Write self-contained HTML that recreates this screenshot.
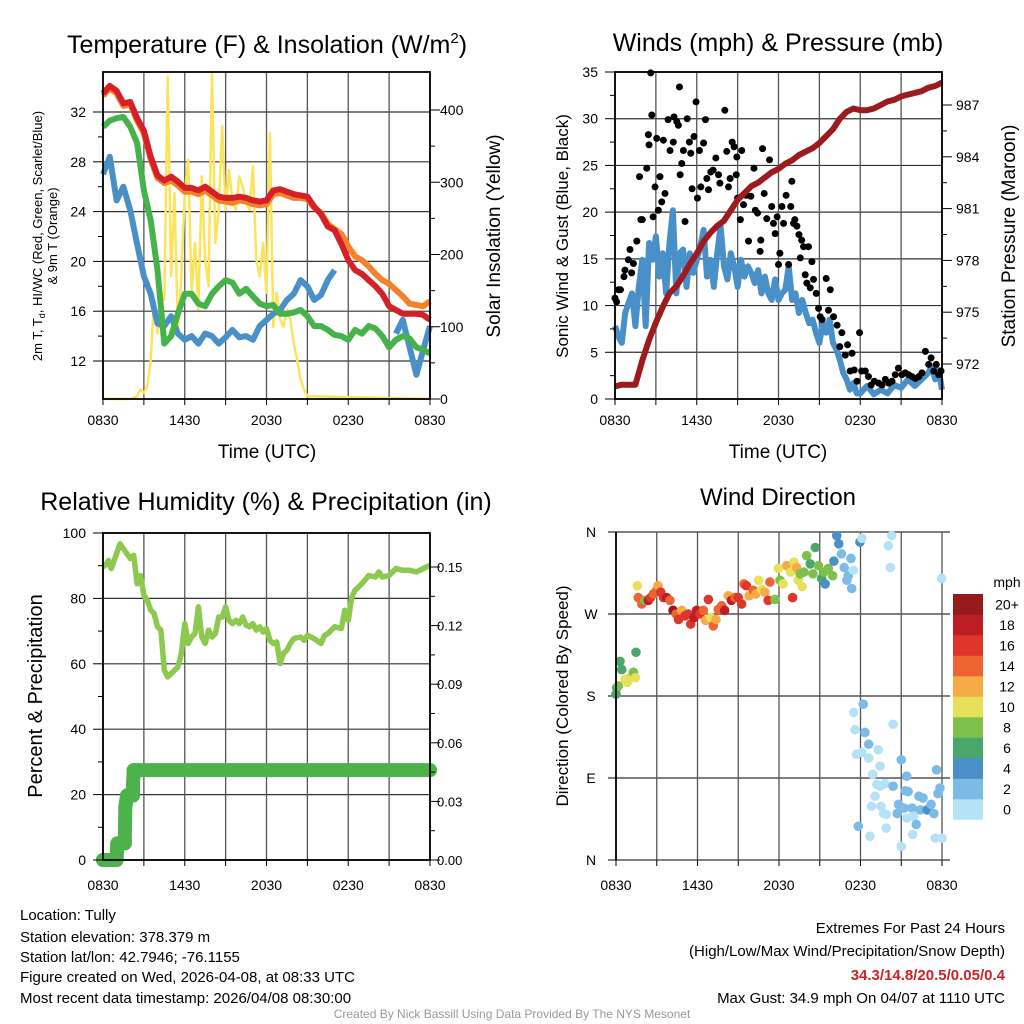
<!DOCTYPE html>
<html><head><meta charset="utf-8">
<style>
html,body{margin:0;padding:0;background:#fff;}
svg{display:block;font-family:"Liberation Sans",Arial,sans-serif;}
</style></head>
<body>
<svg id="chart" width="1024" height="1024" viewBox="0 0 1024 1024" xmlns="http://www.w3.org/2000/svg">
<rect width="1024" height="1024" fill="#fff"/>
<g id="layer"></g>
<g id="texts" fill="#000">
 <text x="267" y="53" font-size="25" text-anchor="middle">Temperature (F) &amp; Insolation (W/m<tspan font-size="15" dy="-10">2</tspan><tspan dy="10">)</tspan></text>
 <text x="778" y="51" font-size="25" text-anchor="middle">Winds (mph) &amp; Pressure (mb)</text>
 <text x="266" y="510" font-size="25" text-anchor="middle">Relative Humidity (%) &amp; Precipitation (in)</text>
 <text x="778" y="505" font-size="24" text-anchor="middle">Wind Direction</text>
 <text x="267" y="458" font-size="19" text-anchor="middle">Time (UTC)</text>
 <text x="778" y="458" font-size="19" text-anchor="middle">Time (UTC)</text>
 <text transform="translate(42,236) rotate(-90)" font-size="13" text-anchor="middle">2m T, T<tspan font-size="9" dy="3">d</tspan><tspan dy="-3">, HI/WC (Red, Green, Scarlet/Blue)</tspan></text>
 <text transform="translate(57,236) rotate(-90)" font-size="13" text-anchor="middle">&amp; 9m T (Orange)</text>
 <text transform="translate(500,236) rotate(-90)" font-size="19" text-anchor="middle">Solar Insolation (Yellow)</text>
 <text transform="translate(568,236) rotate(-90)" font-size="17" text-anchor="middle">Sonic Wind &amp; Gust (Blue, Black)</text>
 <text transform="translate(1015,236) rotate(-90)" font-size="19" text-anchor="middle">Station Pressure (Maroon)</text>
 <text transform="translate(42,696) rotate(-90)" font-size="20" text-anchor="middle">Percent &amp; Precipitation</text>
 <text transform="translate(568,696) rotate(-90)" font-size="17" text-anchor="middle">Direction (Colored By Speed)</text>
 <text x="1007" y="587" font-size="14" text-anchor="middle">mph</text>
 <g font-size="15">
  <text x="20" y="920">Location: Tully</text>
  <text x="20" y="942">Station elevation: 378.379 m</text>
  <text x="20" y="962">Station lat/lon: 42.7946; -76.1155</text>
  <text x="20" y="982">Figure created on Wed, 2026-04-08, at 08:33 UTC</text>
  <text x="20" y="1003">Most recent data timestamp: 2026/04/08 08:30:00</text>
 </g>
 <g font-size="15" text-anchor="end">
  <text x="1005" y="933">Extremes For Past 24 Hours</text>
  <text x="1005" y="956">(High/Low/Max Wind/Precipitation/Snow Depth)</text>
  <text x="1005" y="980" fill="#cc2229" font-weight="bold">34.3/14.8/20.5/0.05/0.4</text>
  <text x="1005" y="1003">Max Gust: 34.9 mph On 04/07 at 1110 UTC</text>
 </g>
 <text x="512" y="1018" font-size="12" fill="#999" text-anchor="middle">Created By Nick Bassill Using Data Provided By The NYS Mesonet</text>
</g>
</svg>
<script>
// ---------- data ----------
const xTickLabels = ["0830","1430","2030","0230","0830"];
const halfHours = [0,0.5,1,1.5,2,2.5,3,3.5,4,4.5,5,5.5,6,6.5,7,7.5,8,8.5,9,9.5,10,10.5,11,11.5,12,12.5,13,13.5,14,14.5,15,15.5,16,16.5,17,17.5,18,18.5,19,19.5,20,20.5,21,21.5,22,22.5,23,23.5,24];
const temp2m = [33.5,34.1,33.7,32.7,32.8,31.5,30.5,28.4,26.9,26.5,26.8,26.4,25.9,25.9,25.7,26.0,25.6,25.2,25.1,25.1,25.2,25.1,24.9,24.8,24.9,25.7,25.8,25.6,25.4,25.3,25.2,24.4,23.8,22.8,22.5,21.4,20.1,19.3,19.0,18.5,18.0,17.4,16.4,16.1,15.8,15.8,15.8,15.7,15.3];
const temp9m = [33.3,33.9,33.5,32.5,32.6,31.3,30.3,28.2,26.7,26.3,26.5,26.1,25.6,25.6,25.4,25.7,25.3,24.9,24.8,24.7,24.9,24.8,24.6,24.5,24.6,25.4,25.5,25.3,25.1,25.1,25.0,24.3,23.9,23.0,22.6,22.2,21.2,20.4,20.1,19.6,19.0,18.5,18.2,17.7,17.2,16.6,16.5,16.4,16.8];
const dewpoint = [30.8,31.3,31.5,31.6,30.8,29.5,25.7,23.3,19.3,13.4,14.0,15.8,17.4,17.4,16.6,16.4,17.4,18.0,18.5,18.3,17.4,17.8,17.2,16.6,16.4,16.5,15.8,15.8,15.9,16.1,15.6,14.8,14.8,14.5,14.1,14.0,13.7,14.5,14.2,14.8,14.6,14.0,13.1,13.7,14.0,13.8,13.1,12.9,12.6];
const windChill = [27.0,28.4,24.9,26.0,24.1,21.4,18.8,17.4,15.0,14.8,15.6,14.2,13.7,14.0,13.4,14.2,14.0,13.4,13.9,14.5,13.9,14.0,13.7,14.8,15.3,15.8,16.1,16.9,17.4,18.5,18.0,16.9,17.3,18.5,19.3,null,17.4,null,null,null,null,null,null,14.2,15.3,13.1,10.9,12.9,14.8];
const solarTimes = [0,2,2.5,2.75,3,3.25,3.5,3.75,4,4.25,4.5,4.75,5,5.25,5.5,5.75,6,6.25,6.5,6.75,7,7.25,7.5,7.75,8,8.25,8.5,8.75,9,9.25,9.5,9.75,10,10.25,10.5,10.75,11,11.25,11.5,11.75,12,12.25,12.5,12.75,13,13.25,13.5,13.75,14,14.25,14.5,14.75,15,24];
const solar = [0,0,4,13,8,18,54,137,91,147,137,446,170,285,91,170,285,331,147,216,124,308,193,156,451,216,262,377,262,317,276,262,308,294,271,262,322,193,170,216,147,368,100,147,110,100,124,110,77,54,27,13,4,0];
const tempTicks = [12,16,20,24,28,32];
const solarTicks = [0,100,200,300,400];

const quarterHoursWind = [0,0.25,0.5,0.75,1,1.25,1.5,1.75,2,2.25,2.5,2.75,3,3.25,3.5,3.75,4,4.25,4.5,4.75,5,5.25,5.5,5.75,6,6.25,6.5,6.75,7,7.25,7.5,7.75,8,8.25,8.5,8.75,9,9.25,9.5,9.75,10,10.25,10.5,10.75,11,11.25,11.5,11.75,12,12.25,12.5,12.75,13,13.25,13.5,13.75,14,14.25,14.5,14.75,15,15.25,15.5,15.75,16,16.25,16.5,16.75,17,17.25,17.5,17.75,18,18.5,19,19.5,20,20.5,21,21.5,22,22.5,23,23.25,23.5,23.75,24];
const windSpeed = [7.8,6.7,6.0,9.2,10.3,11.3,7.8,12,14.9,7.8,16.7,14.9,17.4,13.1,15.6,11.3,16.7,20.2,11.3,15.6,16,12,15.6,13.5,14.9,16.3,18.1,13.1,14.9,12,15.6,18.5,14.2,12.8,15.6,14.2,12,14.9,13.1,14.2,13.5,12.4,13.8,11.3,13.1,11.3,10.6,12.8,10.6,11.3,11.7,14.2,10.6,11.3,9.2,10.6,9.2,8.1,8.5,7.1,6,8.1,7.1,8.5,6,5.3,4.2,2.8,2.1,1,1.7,0.6,0.6,1.4,0.5,1,0.6,1.5,1.2,2.1,1.4,2.1,2.8,3.5,2.1,3.1,1];
const gustTimes = [0,0.12,0.25,0.4,0.66,0.73,0.98,1.1,1.22,1.35,1.6,1.8,1.9,2.0,2.33,2.45,2.5,2.62,2.7,2.8,2.94,3.06,3.18,3.3,3.43,3.55,3.67,3.9,4.04,4.28,4.33,4.53,4.65,4.73,4.78,4.9,5.02,5.14,5.3,5.46,5.56,5.66,5.8,5.95,6.05,6.2,6.3,6.5,6.64,6.74,6.86,7.03,7.2,7.4,7.6,7.7,8.06,8.2,8.33,8.45,8.6,8.74,8.9,8.94,9.0,9.2,9.3,9.43,9.63,9.8,9.97,10.2,10.3,10.46,10.65,10.7,10.83,10.95,11.14,11.34,11.5,11.63,11.76,11.9,12.0,12.1,12.25,12.37,12.56,12.74,12.9,12.98,13.1,13.2,13.35,13.5,13.6,13.7,13.84,13.96,14.08,14.2,14.33,14.45,14.57,14.77,14.94,15.06,15.2,15.5,15.67,15.8,16.04,16.3,16.5,16.65,16.9,17.07,17.26,17.4,17.56,17.76,17.95,18.1,18.37,18.6,18.8,19.03,19.35,19.6,19.84,20.1,20.33,20.57,20.8,21.06,21.3,21.55,21.8,22.04,22.3,22.53,22.78,23.02,23.2,23.4,23.58,23.76,23.93];
const gustSpeed = [10.8,10.4,11.7,11.7,13.1,13.8,14.9,16,13.5,14.5,16.9,23.8,19.2,19.2,24.7,28.3,27.2,34.9,30.4,19.5,22.7,27.9,20.2,23.8,21.1,27.7,22,29.9,26.6,27.5,30.2,29.7,29.3,33.4,24,25.2,26.6,19,30,27.5,26.3,22.5,28.1,31.8,21.5,26.6,22.7,27.4,29.9,23.6,22.4,24.3,24.5,25.8,24,23.1,30.9,26.5,22.7,23.6,27.5,27,24,25.9,21.5,19.2,26.6,20.8,21.8,16.9,21.7,24.7,20.2,19.9,15.8,17,26.8,22,19.3,25.6,20.6,18.8,17.7,19.5,14.4,15.6,20.6,18.8,21.8,14.4,20.6,23.3,18.8,19.2,18.5,17.6,15.1,17,16.3,13.3,12.4,16.3,11.9,14.7,12.8,11.3,9.7,8.8,8.5,12.9,9.5,11.7,8.8,7.9,5.6,7.1,4.7,5.8,3,4.9,3.1,1.9,7.1,3,3,2.4,1.5,1.9,1.7,1.5,2.1,1.7,1.9,2.6,3.3,2.6,2.8,2.6,2.4,2.2,2.4,2.8,5.1,3.7,4.4,3,3.7,2.6,3];
const pressure = [970.7,970.8,970.8,970.8,972.2,973.4,974.4,975.3,976.1,976.5,977.1,977.8,978.4,979.1,979.6,980.0,980.3,980.9,981.5,981.9,982.3,982.5,982.8,983.1,983.3,983.6,983.8,984.1,984.3,984.5,984.8,985.2,985.6,986.2,986.6,986.8,986.7,986.7,986.8,987.0,987.2,987.3,987.5,987.6,987.7,987.8,988.0,988.1,988.3];
const windTicks = [0,5,10,15,20,25,30,35];
const pressureTicks = [972,975,978,981,984,987];

const rhTimes = [0,0.25,0.4,0.6,1,1.25,1.5,2,2.25,2.5,2.75,3,3.25,3.5,3.75,4,4.25,4.5,4.75,5,5.25,5.5,5.75,6,6.25,6.5,6.75,7,7.25,7.5,7.75,8,8.25,8.5,8.75,9,9.25,9.5,9.75,10,10.25,10.5,10.75,11,11.25,11.5,11.75,12,12.25,12.5,12.75,13,13.25,13.5,13.75,14,14.5,14.75,15,15.5,16,16.25,16.5,17,17.5,17.75,18,18.25,18.5,19,19.5,20,20.25,20.5,21,21.5,22,22.5,23,23.5,24];
const rh = [89.6,90.5,91.6,89.1,93.7,96.7,95.2,92.2,93.2,84.5,87,81,79.4,76.4,75.4,71.3,70.3,58,56,57,58,59,63,72.3,66.2,68.2,69.2,77.4,68.2,66.2,70.3,68.2,69.2,74.3,74.3,77.4,73.3,72.3,73.3,72.3,74.3,71.8,71.3,72.3,70.3,71.3,69.7,70.8,67.2,66.2,66.7,60.1,63.2,64.2,66.2,67.7,68.2,67.2,68.7,67.7,66.2,68.7,69.2,71.3,70.8,76.4,73.3,80.4,82.5,84.5,87,86.5,88.1,86.5,87,89.1,88.6,88.6,88.1,89.1,90.1];
const precipTimes = [0,0.5,1.0,1.05,1.3,1.6,1.64,1.76,2.2,2.2,2.25,24];
const precip = [0,0,0,0.0085,0.0085,0.0085,0.027,0.033,0.033,0.038,0.046,0.046];
const rhTicks = [0,20,40,60,80,100];
const precipTicks = [0,0.03,0.06,0.09,0.12,0.15];
const precipTickLabels = ["0.00","0.03","0.06","0.09","0.12","0.15"];

const dirTimes = [0,0.05,0.17,0.3,0.42,0.66,0.83,1.0,1.28,1.42,1.47,1.57,1.64,1.9,2.13,2.38,2.55,2.75,3.0,3.1,3.29,3.5,3.73,3.97,4.2,4.42,4.6,4.83,5.08,5.32,5.5,5.74,5.94,6.18,6.43,6.6,6.8,6.97,7.16,7.36,7.53,7.78,8.0,8.27,8.5,8.76,9.0,9.25,9.42,9.6,9.8,10.1,10.3,10.5,10.72,10.96,11.33,11.2,11.7,11.95,12.07,12.3,12.57,12.86,13.0,13.1,13.3,13.42,13.55,13.7,13.84,14.04,14.3,14.5,14.67,14.9,15.14,15.3,15.4,15.63,15.95,16.04,16.25,16.4,16.6,16.8,17.0,17.1,17.3,17.35,17.47,17.96,18.1,20.3,20.05,20.2,23.97,18.2,17.5,17.6,18.33,18.6,18.1,17.7,18.6,19.3,19.44,18.9,19.2,19.44,19.8,19.07,18.8,19.5,19.7,19.9,17.84,18.7,19.9,20.4,21.0,20.4,20.8,21.3,21.5,21.4,20.7,21.2,21.8,21.4,21.9,22.1,21.84,21.0,22.3,22.6,22.4,22.9,23.2,23.4,23.6,23.7,23.85,23.5,24];
const dirDeg = [182,189,191,218,209,198,195,200,206,200,228,301,288,281,285,285,288,292,296,301,294,288,288,285,274,270,264,274,268,270,259,266,274,270,274,263,286,266,257,264,275,279,274,290,285,288,288,281,303,301,290,296,292,307,297,294,305,285,286,320,307,303,323,316,288,327,321,307,314,300,316,334,325,314,343,323,309,316,303,320,312,328,356,347,336,321,307,312,331,298,318,349,353,356,345,321,309,171,162,143,140,127,118,116,112,121,103,94,83,81,84,70,59,59,51,50,37,26,35,149,110,81,61,76,75,92,51,57,57,46,48,39,28,15,70,68,55,55,61,51,99,73,79,24,24];
const dirSpeed = [6,7,8,6,6,10,10,10,9,10,6,10,14,14,8,18,16,14,15,12,17,16,18,15,21,15,17,12,16,17,16,18,19,17,14,12,16,10,15,12,14,15,18,12,18,14,16,17,15,16,12,14,12,11,10,12,14,16,9,10,8,10,13,10,16,11,13,10,8,11,9,8,7,8,6,8,6,8,4,8,8,4,4,4,2,2,2,2,2,2,1,4,1,0,0,0,0,3,1,1,3,2,1,1,1,1,1,1,1,1,1,1,1,1,1,0,3,1,1,1,2,2,3,3,3,2,3,2,2,1,1,3,1,1,3,3,3,4,3,3,3,3,2,1,1];
const speedColors = ["#b5e2f7","#7cbbe6","#4a8fc7","#4aa66b","#7dc14c","#e7e05a","#f6ab47","#ee6430","#de362b","#bd1d25","#961a1b"];
const speedLabels = ["0","2","4","6","8","10","12","14","16","18","20+"];
const dirTicks = [0,90,180,270,360];
const dirTickLabels = ["N","E","S","W","N"];

// ---------- helpers ----------
const NS = "http://www.w3.org/2000/svg";
const layer = document.getElementById("layer");
function el(tag, attrs, parent){
  const e = document.createElementNS(NS, tag);
  for (const k in attrs) e.setAttribute(k, attrs[k]);
  (parent||layer).appendChild(e);
  return e;
}
function lin(d0,d1,r0,r1){ return v => r0 + (v-d0)*(r1-r0)/(d1-d0); }
function pathFrom(xs, ys, fx, fy){
  let d = "", pen = false;
  for (let i=0;i<xs.length;i++){
    if (ys[i]===null){ pen=false; continue; }
    d += (pen?"L":"M") + fx(xs[i]).toFixed(1) + "," + fy(ys[i]).toFixed(1);
    pen = true;
  }
  return d;
}
function frame(name){
  const g = el("g",{});
  
  
  return g;
}
function timeGrid(g,x0,x1,y0,y1,fx){
  for (let h=0; h<=24; h+=3){
    const ln = el("line",{x1:fx(h),x2:fx(h),y1:y0,y2:y1,stroke:"#555","stroke-width":1.3},g);
    
    
    const tk = el("line",{x1:fx(h),x2:fx(h),y1:y1,y2:y1+6,stroke:"#000","stroke-width":1},g);
    
    
  }
}
function xLabels(g,fx,y){
  xTickLabels.forEach((t,i)=>{
    const tx = el("text",{x:fx(i*6),y:y,"font-size":14,"text-anchor":"middle"},g);
    tx.textContent = t;
    
    
  });
}
function hGrid(g,ticks,fy,x0,x1){
  ticks.forEach((t)=>{
    const y = fy(t);
    const ln = el("line",{x1:x0,x2:x1,y1:y,y2:y,stroke:"#333","stroke-width":1.2},g);
    
    
  });
}
function axisTicks(g,ticks,fy,x,dir,labels,lx,anchor,fs){
  ticks.forEach((t,i)=>{
    const y = fy(t);
    const tk = el("line",{x1:x,x2:x+dir*10,y1:y,y2:y,stroke:"#000","stroke-width":1},g);
    
    
    if (labels){
      const tx = el("text",{x:lx,y:y+5,"font-size":fs||14,"text-anchor":anchor},g);
      tx.textContent = labels[i];
      
      
    }
  });
  for (let k=0;k<ticks.length-1;k++){
    const a=fy(ticks[k]), b=fy(ticks[k+1]);
    const mid=(a+b)/2;
    const mt = el("line",{x1:x,x2:x+dir*5,y1:mid,y2:mid,stroke:"#000","stroke-width":1},g);
    
    
  }
}
function border(g,x0,x1,y0,y1){
  const r = el("rect",{x:x0,y:y0,width:x1-x0,height:y1-y0,fill:"none",stroke:"#000","stroke-width":1.8},g);
  
  
}

// ---------- panel 1: temperature ----------
{
  const x0=103,x1=430,y0=72,y1=399;
  const g = frame("temperature-panel");
  const fx = lin(0,24,x0,x1);
  const fy = lin(12,32,361,112);
  const fs = lin(0,400,399,110);
  hGrid(g,tempTicks,fy,x0,x1);
  timeGrid(g,x0,x1,y0,y1,fx);
  const s1 = el("path",{d:pathFrom(solarTimes,solar,fx,fs),fill:"none",stroke:"#fde35c","stroke-width":2.5,"stroke-linejoin":"round"},g);
  
  
  const s2 = el("path",{d:pathFrom(halfHours,windChill,fx,fy),fill:"none",stroke:"#4a90c8","stroke-width":6,"stroke-linejoin":"round"},g);
  
  
  const s3 = el("path",{d:pathFrom(halfHours,dewpoint,fx,fy),fill:"none",stroke:"#46b24a","stroke-width":6,"stroke-linejoin":"round"},g);
  
  
  const s4 = el("path",{d:pathFrom(halfHours,temp9m,fx,fy),fill:"none",stroke:"#f5822a","stroke-width":6,"stroke-linejoin":"round"},g);
  
  
  const s5 = el("path",{d:pathFrom(halfHours,temp2m,fx,fy),fill:"none",stroke:"#d62027","stroke-width":6,"stroke-linejoin":"round"},g);
  
  
  border(g,x0,x1,y0,y1);
  axisTicks(g,tempTicks,fy,x0,-1,tempTicks.map(String),86,"end");
  axisTicks(g,solarTicks,fs,x1,1,solarTicks.map(String),440,"start");
  xLabels(g,fx,425);
}
// ---------- panel 2: wind ----------
{
  const x0=615,x1=942,y0=72,y1=399;
  const g = frame("wind-panel");
  const fx = lin(0,24,x0,x1);
  const fy = lin(0,35,399,72);
  const fp = lin(972,987,364,105);
  hGrid(g,windTicks,fy,x0,x1);
  timeGrid(g,x0,x1,y0,y1,fx);
  const w = el("path",{d:pathFrom(quarterHoursWind,windSpeed,fx,fy),fill:"none",stroke:"#4a90c8","stroke-width":6,"stroke-linejoin":"round"},g);
  
  
  gustTimes.forEach((t,i)=>{
    const c = el("circle",{cx:fx(t),cy:fy(gustSpeed[i]),r:3.5,fill:"#000"},g);
    
    
  });
  const p = el("path",{d:pathFrom(halfHours,pressure,fx,fp),fill:"none",stroke:"#9b1b1e","stroke-width":6,"stroke-linejoin":"round"},g);
  
  
  border(g,x0,x1,y0,y1);
  axisTicks(g,windTicks,fy,x0,-1,windTicks.map(String),598,"end");
  axisTicks(g,pressureTicks,fp,x1,1,pressureTicks.map(String),956,"start");
  xLabels(g,fx,425);
}
// ---------- panel 3: RH & precip ----------
{
  const x0=103,x1=430,y0=533,y1=860;
  const g = frame("humidity-panel");
  const fx = lin(0,24,x0,x1);
  const fy = lin(0,100,860,533);
  const fp = lin(0,0.15,860,567);
  hGrid(g,rhTicks,fy,x0,x1);
  timeGrid(g,x0,x1,y0,y1,fx);
  const r = el("path",{d:pathFrom(rhTimes,rh,fx,fy),fill:"none",stroke:"#8dc94e","stroke-width":5.5,"stroke-linejoin":"round"},g);
  
  
  const pl = el("path",{d:pathFrom(precipTimes,precip,fx,fp),fill:"none",stroke:"#4bb34a","stroke-width":14,"stroke-linejoin":"round","stroke-linecap":"round"},g);
  
  
  precipTimes.forEach((t,i)=>{
    const c = el("circle",{cx:fx(t),cy:fp(precip[i]),r:7,fill:"#4bb34a"},g);
    
    
  });
  border(g,x0,x1,y0,y1);
  axisTicks(g,rhTicks,fy,x0,-1,rhTicks.map(String),86,"end");
  axisTicks(g,precipTicks,fp,x1,1,precipTickLabels,437,"start",13);
  xLabels(g,fx,890);
}
// ---------- panel 4: direction ----------
{
  const x0=616,x1=942,y0=532,y1=860;
  const g = frame("direction-panel");
  const fx = lin(0,24,x0,x1);
  const fy = lin(0,360,860,532);
  hGrid(g,dirTicks,fy,x0-8,x1+8);
  timeGrid(g,x0,x1,y0,y1,fx);
  dirTimes.forEach((t,i)=>{
    const k = Math.min(10, Math.floor(dirSpeed[i]/2));
    const c = el("circle",{cx:fx(t),cy:fy(dirDeg[i]),r:4.8,fill:speedColors[k]},g);
    
    
  });
  dirTicks.forEach((d,i)=>{
    const tx = el("text",{x:591,y:fy(d)+5,"font-size":14,"text-anchor":"middle"},g);
    tx.textContent = dirTickLabels[i];
    
    
  });
  const ax = el("line",{x1:x0,x2:x0,y1:y0,y2:y1,stroke:"#000","stroke-width":1.8},g);
  
  
  xLabels(g,fx,890);
  const cb = el("g",{},g);
  
  
  const boxH = 20.5, top = 594;
  speedColors.forEach((c,i)=>{
    const yy = top + (10-i)*boxH;
    const b = el("rect",{x:953,y:yy,width:30,height:boxH+0.3,fill:c},cb);
    
    
    const tx = el("text",{x:1007,y:yy+boxH/2+5,"font-size":14,"text-anchor":"middle"},cb);
    tx.textContent = speedLabels[i];
    
    
  });
}
</script>
</body></html>
